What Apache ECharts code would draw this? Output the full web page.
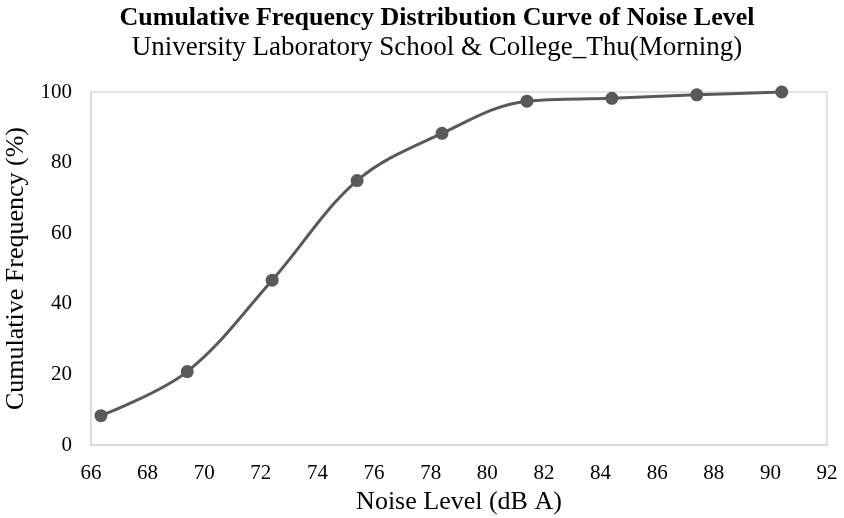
<!DOCTYPE html>
<html>
<head>
<meta charset="utf-8">
<script src="https://cdn.jsdelivr.net/npm/echarts@6/dist/echarts.min.js"></script>
<style>
html,body{margin:0;padding:0;background:#fff;}
#m1{width:844px;height:518px;}
</style>
</head>
<body>
<div id="m1"></div>
<script>
// noise level (dB A) and cumulative frequency (%)
var noiseLevel = [66.35, 69.4, 72.4, 75.4, 78.4, 81.4, 84.4, 87.4, 90.4];
var cumFreq = [8.3, 20.8, 46.7, 74.9, 88.3, 97.4, 98.2, 99.2, 100];

var pts = [];
for (var i = 0; i < noiseLevel.length; i++) {
    pts.push([noiseLevel[i], cumFreq[i]]);
}

var font = '"Liberation Serif", "Times New Roman", serif';
var myChart = echarts.init(document.getElementById('m1'));
var option = {
    animation: false,
    backgroundColor: '#fff',
    title: {
        text: 'Cumulative Frequency Distribution Curve of Noise Level',
        subtext: 'University Laboratory School & College_Thu(Morning)',
        left: 432,
        textAlign: 'center',
        top: 0,
        itemGap: 3,
        textStyle: {fontFamily: font, fontSize: 26, fontWeight: 'bold', color: '#000'},
        subtextStyle: {fontFamily: font, fontSize: 27, color: '#000'}
    },
    grid: {
        left: 91, right: 17, top: 92, bottom: 73,
        outerBoundsMode: 'none',
        show: true, borderColor: '#d9d9d9', borderWidth: 1.5
    },
    xAxis: {
        type: 'value',
        min: 66, max: 92, interval: 2,
        name: 'Noise Level (dB A)',
        nameLocation: 'middle',
        nameGap: 44,
        nameTextStyle: {fontFamily: font, fontSize: 26, color: '#000'},
        axisLine: {show: true, lineStyle: {color: '#d9d9d9', width: 1.5}},
        axisTick: {show: false},
        splitLine: {show: false},
        axisLabel: {fontFamily: font, fontSize: 21, color: '#000', margin: 18}
    },
    yAxis: {
        type: 'value',
        min: 0, max: 100, interval: 20,
        name: 'Cumulative Frequency (%)',
        nameLocation: 'middle',
        nameGap: 56,
        nameTextStyle: {fontFamily: font, fontSize: 26, color: '#000'},
        axisLine: {show: true, lineStyle: {color: '#d9d9d9', width: 1.5}},
        axisTick: {show: false},
        splitLine: {show: false},
        axisLabel: {fontFamily: font, fontSize: 21, color: '#000', margin: 19}
    },
    series: [
        {
        name: 'Cumulative Frequency',
        type: 'line',
        data: pts,
        smooth: 0.35,
        symbol: 'circle',
        symbolSize: 13,
        itemStyle: {color: '#595959'},
        lineStyle: {color: '#595959', width: 3}
        }
    ]
};
myChart.setOption(option);
</script>
</body>
</html>
